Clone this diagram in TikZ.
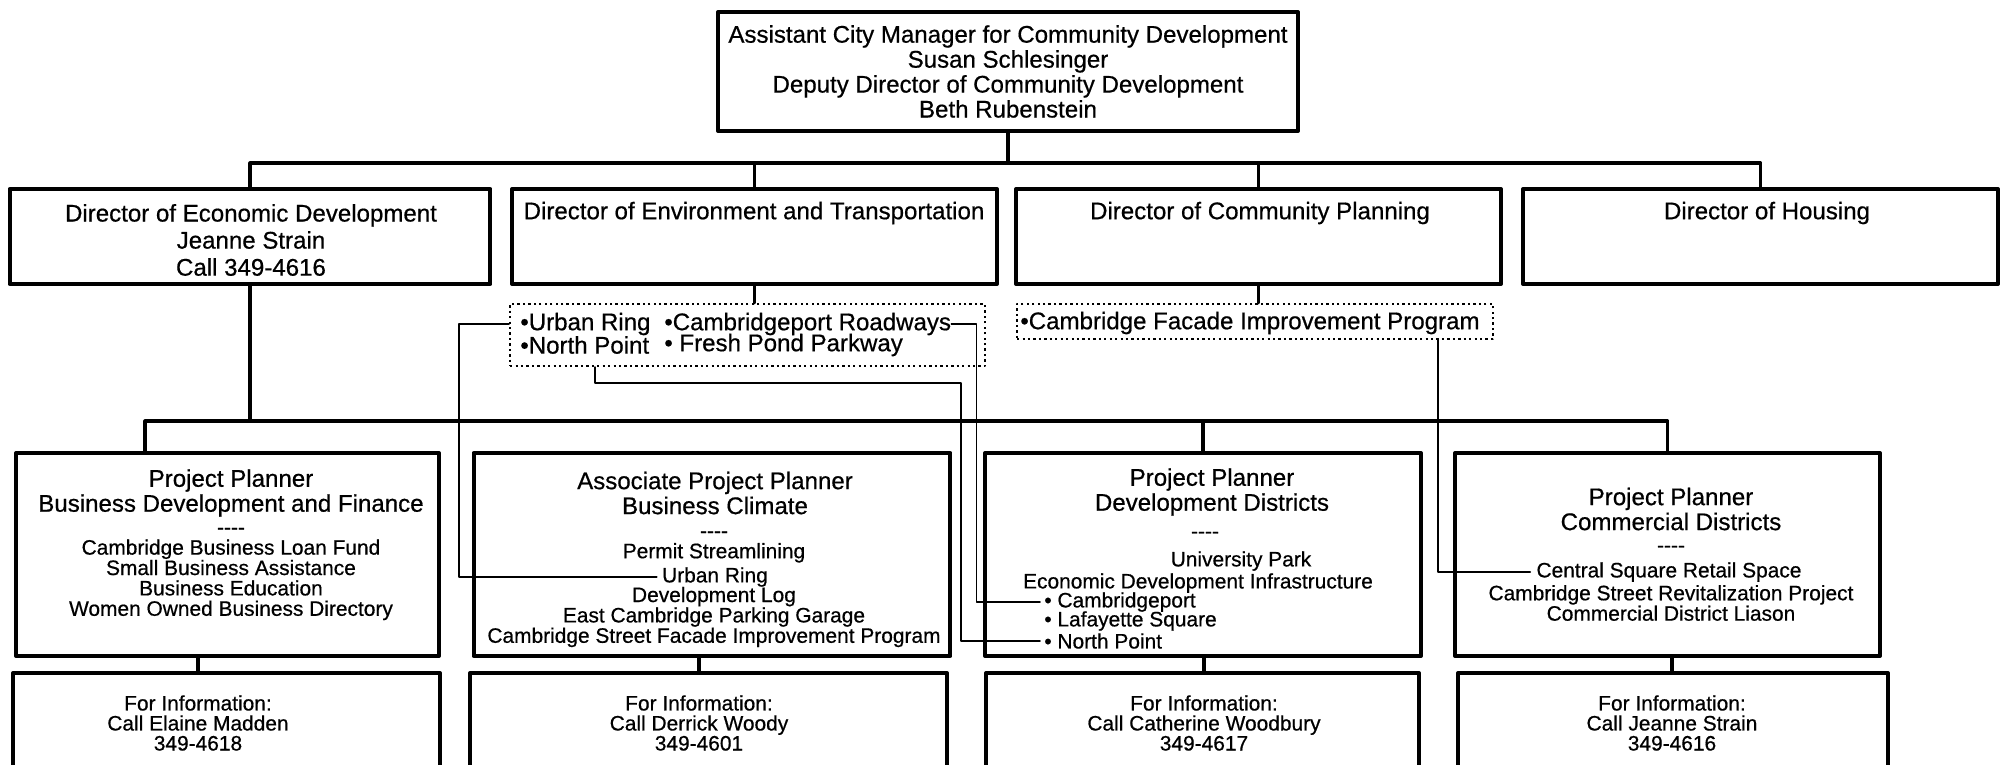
\documentclass[tikz,border=0pt]{standalone}
\usepackage{fontspec}
\setmainfont{Liberation Sans}[FakeBold=0.6,AutoFakeBold=0.6]
\usetikzlibrary{calc}
\newcommand\orghead{\fontsize{13.7pt}{14.2pt}\selectfont\bfseries}
\newcommand\orgdir{\fontsize{13.7pt}{15.4pt}\selectfont\bfseries}
\newcommand\orgitem{\fontsize{11.9pt}{11.6pt}\selectfont\bfseries}
\newcommand\orginfo{\fontsize{11.9pt}{11.4pt}\selectfont\bfseries}
\tikzstyle{every node}=[inner sep=0pt,align=center,font=\orghead]
\tikzstyle{box}=[draw,line width=2.3pt]
\tikzstyle{dotbox}=[draw,line width=1.3pt,line cap=butt,dash pattern=on 1.3pt off 1.8pt]
\tikzstyle{bus}=[line width=1.8pt]
\tikzstyle{link}=[line width=1pt]
\tikzstyle{item}=[font=\orgitem]
\tikzstyle{info}=[font=\orginfo]

\begin{document}
\begin{tikzpicture}[x=0.02cm,y=-0.02cm,line cap=round,line join=round]
  \useasboundingbox (0,0) rectangle (2007,764);
  \clip (0,0) rectangle (2007,764);
  % top
  \node[box,minimum width=11.6cm,minimum height=2.38cm] (top) at (1008,71.5)
    {Assistant City Manager for Community Development\\Susan Schlesinger\\
     Deputy Director of Community Development\\Beth Rubenstein};
  % directors
  \foreach \n/\x/\w in {dir1/250/9.62,dir2/754.5/9.7,dir3/1258.5/9.7,dir4/1760.5/9.5}
    \node[box,minimum width=\w cm,minimum height=1.9cm] (\n) at (\x,236.5) {};
  \node[font=\orgdir] (dir1t) at (251,240) {Director of Economic Development\\Jeanne Strain\\Call 349-4616};
  \node (dir2t) at (754,213) {Director of Environment and Transportation};
  \node (dir3t) at (1260,213) {Director of Community Planning};
  \node (dir4t) at (1767,213) {Director of Housing};
  \coordinate (b1) at (1008,163);
  \draw[bus] (top.south) -- (b1);
  \draw[bus] (dir1.north) |- (b1) -| (dir4.north);
  \foreach \n in {dir2,dir3}
    \draw[bus] (\n.north) -- (\n.north |- b1);

  % programs
  \node[dotbox,minimum width=9.5cm,minimum height=1.24cm] (dot1) at (747.5,335) {};
  \node[dotbox,minimum width=9.52cm,minimum height=0.7cm] (dot2) at (1255,321.5) {};
  \draw[bus] (dir2.south) -- (dir2.south |- dot1.north);
  \draw[bus] (dir3.south) -- (dir3.south |- dot2.north);
  \node[anchor=west] (ur) at (520,324) {•Urban Ring};
  \node[anchor=west] (cr) at (664,324) {•Cambridgeport Roadways};
  \node[anchor=west] (np) at (520,345) {•North Point};
  \node[anchor=west] (fp) at (664,345) {• Fresh Pond Parkway};
  \node[anchor=west] (cf) at (1020,323) {•Cambridge Facade Improvement Program};

  % planners
  \foreach \n/\x/\w in {pl1/227.5/8.46,pl2/712/9.54,pl3/1203/8.72,pl4/1667.5/8.5}
    \node[box,minimum width=\w cm,minimum height=4.06cm] (\n) at (\x,554.5) {};
  \coordinate (b2) at (145,421);
  \draw[bus] (dir1.south) -- (dir1.south |- b2);
  \draw[bus] (pl1.north -| b2) -- (b2) -| (pl4.north);
  \draw[bus] (pl3.north) -- (pl3.north |- b2);

  \node (pl1h) at (231,493) {Project Planner\\Business Development and Finance};
  \node[item] (pl1i) at (231,574) {-{}-{}-{}-\\Cambridge Business Loan Fund\\Small Business Assistance\\
    Business Education\\Women Owned Business Directory};

  \node (pl2h) at (715,493) {Associate Project Planner\\Business Climate};
  \node[item] (pl2a) at (714,547) {-{}-{}-{}-\\Permit Streamlining};
  \node[item] (pur) at (715,577) {Urban Ring};
  \node[item] (pl2b) at (714,617) {Development Log\\East Cambridge Parking Garage\\
    Cambridge Street Facade Improvement Program};

  \node (pl3h) at (1212,492) {Project Planner\\Development Districts};
  \node[item] (pl3d) at (1205,535) {-{}-{}-{}-};
  \node[item] (up) at (1241,561) {University Park};
  \node[item] (edi) at (1198,583) {Economic Development Infrastructure};
  \node[item,anchor=west] (cport) at (1044,602) {• Cambridgeport};
  \node[item,anchor=west] (lsq) at (1044,621) {• Lafayette Square};
  \node[item,anchor=west] (npoint) at (1044,641) {• North Point};

  \node (pl4h) at (1671,509) {Project Planner\\Commercial Districts};
  \node[item] (pl4d) at (1671,549) {-{}-{}-{}-};
  \node[item] (csq) at (1669,572) {Central Square Retail Space};
  \node[item] (pl4i) at (1671,603) {Cambridge Street Revitalization Project\\Commercial District Liason};

  % links
  \draw[link] (dot1.west |- ur) -- ++(-50,0) |- ($(pur.west)+(-5,0)$);
  \draw[link] (cr.east) -- ++(25,0) |- ($(cport.west)+(-4,0)$);
  \draw[link] ($(dot1.south west)+(86,0)$) -- ++(0,16) -- ++(366,0) |- ($(npoint.west)+(-4,0)$);
  \draw[link] ($(dot2.south east)+(-56,0)$) |- ($(csq.west)+(-6,0)$);

  % info
  \foreach \n/\x/\w in {inf1/226.5/8.54,inf2/708.5/9.54,inf3/1202.5/8.66,inf4/1673/8.6}
    \node[box,minimum width=\w cm,minimum height=2.54cm] (\n) at (\x,736.5) {};
  \node[info] (call1) at (198,723) {For Information:\\Call Elaine Madden\\349-4618};
  \node[info] (call2) at (699,723) {For Information:\\Call Derrick Woody\\349-4601};
  \node[info] (call3) at (1204,723) {For Information:\\Call Catherine Woodbury\\349-4617};
  \node[info] (call4) at (1672,723) {For Information:\\Call Jeanne Strain\\349-4616};
  \foreach \i in {1,2,3,4}
    \draw[bus] (pl\i.south -| call\i) -- (inf\i.north -| call\i);
\end{tikzpicture}
\end{document}
